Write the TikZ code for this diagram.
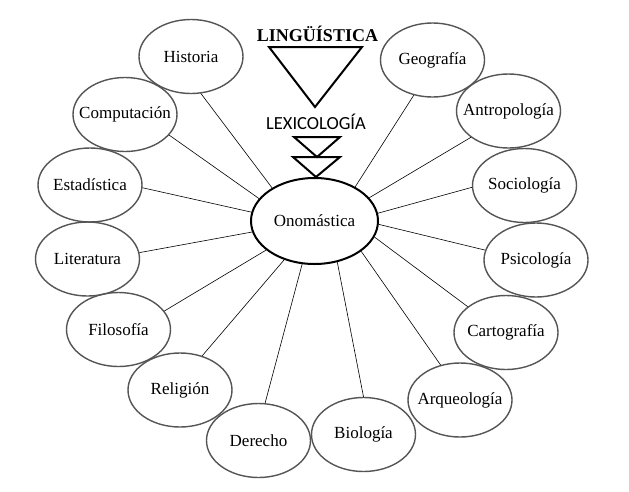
\documentclass[tikz,border=0pt]{standalone}
\usepackage{fontspec}
\setmainfont{Liberation Serif}
\newfontfamily\lexfont{Carlito}
\usetikzlibrary{shapes.geometric}
\definecolor{rim}{HTML}{555555}
\begin{document}
\begin{tikzpicture}[x=1pt,y=-1pt,
  sat/.style={ellipse, draw=rim, line width=1.4pt, minimum width=104pt, minimum height=74pt, inner sep=0pt, font=\fontsize{17}{20}\selectfont},
  hub/.style={ellipse, draw=black, line width=2pt, minimum width=127pt, minimum height=86pt, inner sep=0pt, font=\fontsize{17}{20}\selectfont},
  spoke/.style={draw=black, line width=0.6pt},
  tri/.style={draw=black, line width=2pt, line join=miter}]
\useasboundingbox[fill=white] (0,0) rectangle (629,491);

\node[hub] (ono) at (314.5,221) {\makebox[0pt]{Onomástica}};

\node[sat] (his) at (191,56.5) {\makebox[0pt]{Historia}};
\node[sat] (com) at (125,114.5) {\makebox[0pt]{Computación}};
\node[sat] (est) at (90,185) {\makebox[0pt]{Estadística}};
\node[sat] (lit) at (87.5,259) {\makebox[0pt]{Literatura}};
\node[sat] (fil) at (118.5,329.5) {\makebox[0pt]{Filosofía}};
\node[sat] (rel) at (180,390) {\makebox[0pt]{Religión}};
\node[sat] (der) at (258.5,440.5) {\makebox[0pt]{Derecho}};
\node[sat] (bio) at (363.5,434.5) {\makebox[0pt]{Biología}};
\node[sat] (arq) at (460,400) {\makebox[0pt]{Arqueología}};
\node[sat] (car) at (506,332.5) {\makebox[0pt]{Cartografía}};
\node[sat] (psi) at (536,260) {\makebox[0pt]{Psicología}};
\node[sat] (soc) at (524.5,185.5) {\makebox[0pt]{Sociología}};
\node[sat] (ant) at (508.5,111) {\makebox[0pt]{Antropología}};
\node[sat] (geo) at (432.5,60) {\makebox[0pt]{Geografía}};

\draw[spoke] (his.285.9) -- (ono.142.7);
\draw[spoke] (com.-25.6) -- (ono.158.7);
\draw[spoke] (est.-3.2) -- (ono.172.8);
\draw[spoke] (lit.7.3) -- (ono.190.7);
\draw[spoke] (fil.22.3) -- (ono.211.5);
\draw[spoke] (rel.57.8) -- (ono.232.5);
\draw[spoke] (der.80.2) -- (ono.254.7);
\draw[spoke] (bio.90.8) -- (ono.299.8);
\draw[spoke] (arq.119.2) -- (ono.327.1);
\draw[spoke] (car.146.1) -- (ono.345.6);
\draw[spoke] (psi.169.6) -- (ono.357.3);
\draw[spoke] (soc.182.7) -- (ono.7.3);
\draw[spoke] (ant.215.8) -- (ono.23.4);
\draw[spoke] (geo.242.8) -- (ono.40.7);

\node[anchor=base, inner sep=0pt, font=\fontsize{18}{20}\selectfont\bfseries] (lin) at (317.5,41) {LINGÜÍSTICA};
\node[anchor=base, inner sep=0pt, font=\fontsize{18.5}{20}\selectfont\lexfont] (lex) at (316,129) {LEXICOLOGÍA};

\draw[tri] (269,47) -- (362,47) -- (315,107) -- cycle;
\draw[tri] (294,137) -- (340,137) -- (317,157) -- cycle;
\draw[tri] (293,157) -- (340,157) -- (316,177) -- cycle;
\end{tikzpicture}
\end{document}
